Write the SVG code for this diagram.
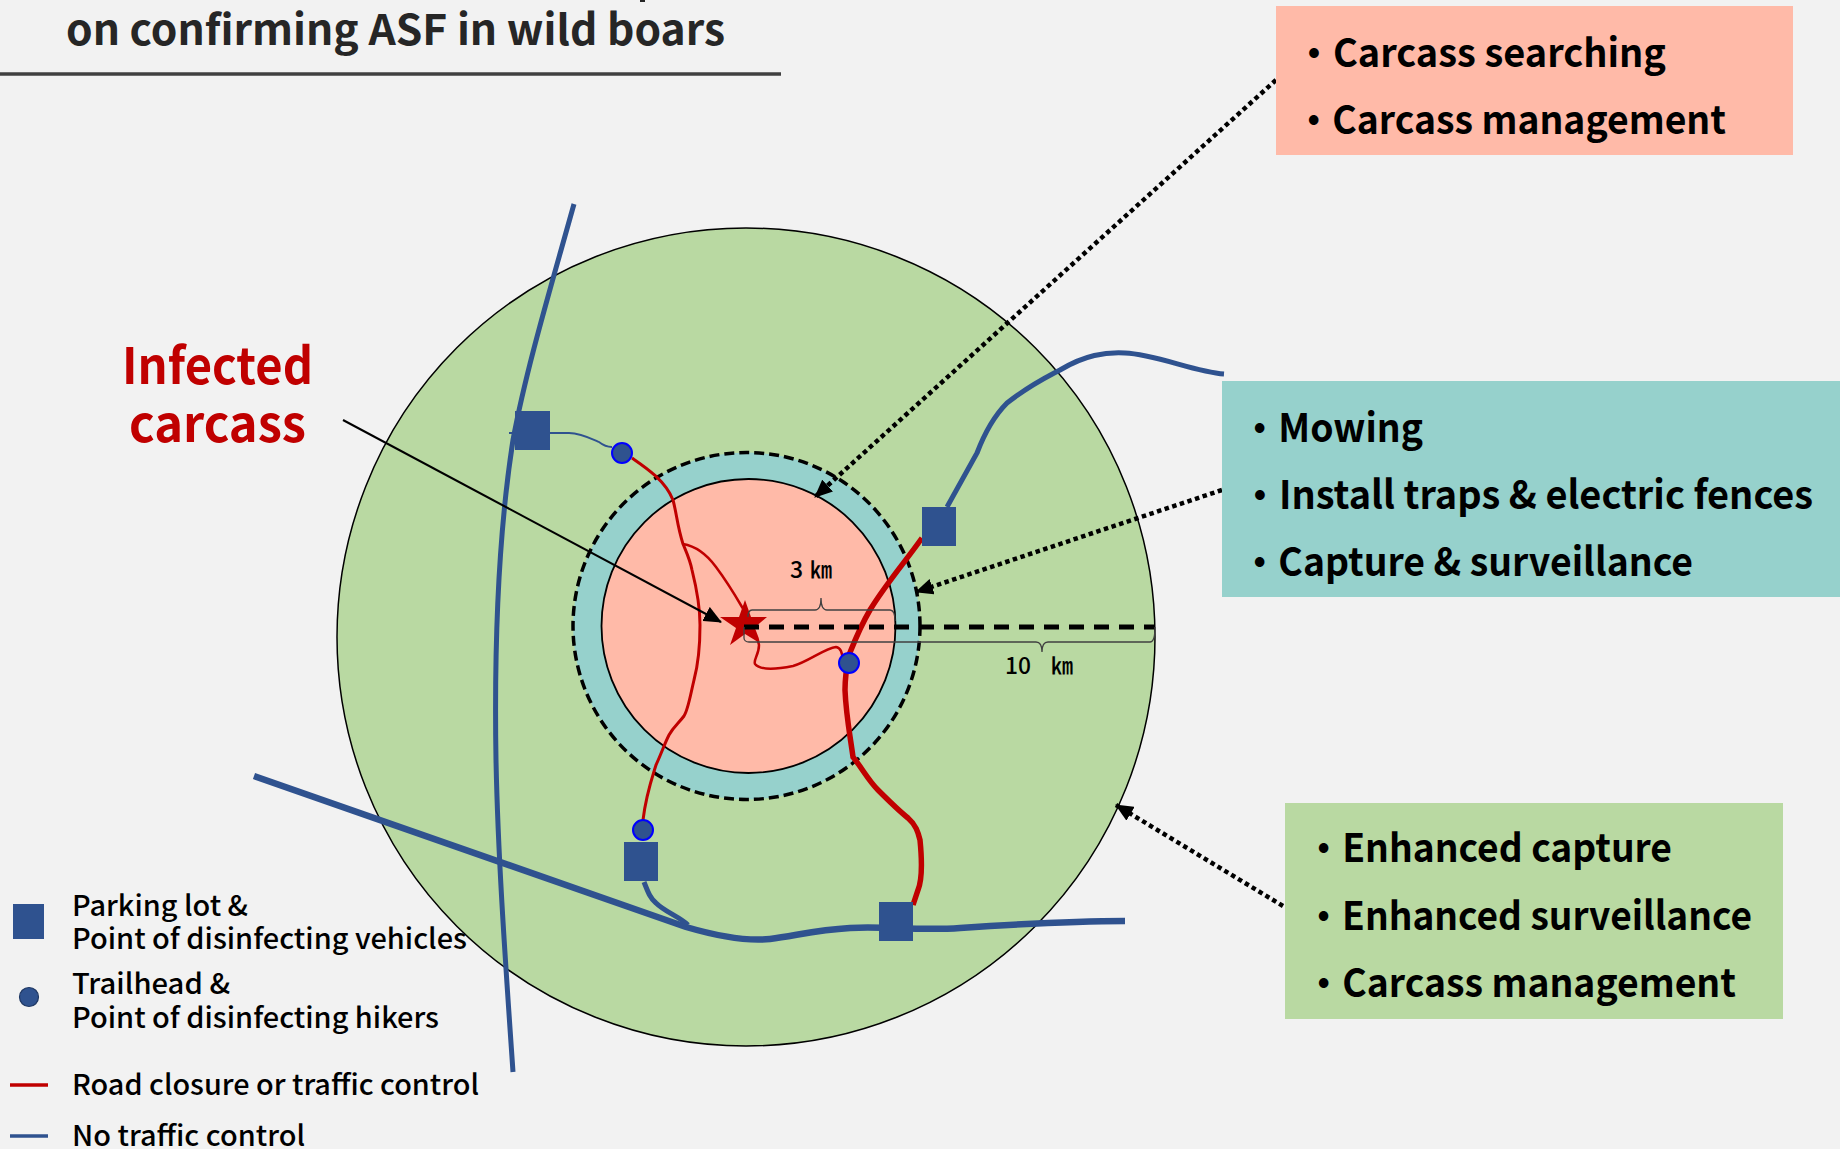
<svg xmlns="http://www.w3.org/2000/svg" width="1840" height="1149" viewBox="0 0 1840 1149">
<style>
text{font-family:"Noto Sans CJK JP","Noto Sans",sans-serif;font-weight:500;fill:#000}
.box{font-size:39px;font-weight:600}
.leg{font-size:28px}
.blue{fill:none;stroke:#2f528f;stroke-linecap:butt}
.red{fill:none;stroke:#c00000}
.sq{fill:#2f528f}
.th{fill:#2f528f;stroke:#0000ff;stroke-width:2}
.dot{fill:none;stroke:#000;stroke-width:4.500;stroke-dasharray:4.500 3.500;marker-end:url(#ah)}
.brace{fill:none;stroke:#404040;stroke-width:1.300}
</style>
<defs><marker id="ah" markerUnits="userSpaceOnUse" markerWidth="18" markerHeight="16" refX="17" refY="8" orient="auto"><path d="M0 0L18 8L0 16z" fill="#000"/></marker></defs>
<rect width="1840" height="1149" fill="#f2f2f2"/>
<g id="title">
<path d="M640 0h5v2h-5z" fill="#262626"/>
<text x="66" y="45" font-size="42" style="fill:#262626;font-weight:600" textLength="659" lengthAdjust="spacingAndGlyphs">on confirming ASF in wild boars</text>
<path d="M0 74H781" stroke="#404040" stroke-width="3.500"/>
</g>
<g id="zones">
<circle id="zone-10km" cx="746" cy="637" r="409" fill="#b9d9a2" stroke="#000" stroke-width="1.500"/>
<circle id="zone-buffer" cx="746.500" cy="626" r="173.500" fill="#96d1cc" stroke="#000" stroke-width="3.500" stroke-dasharray="10 5"/>
<circle id="zone-3km" cx="748.500" cy="626" r="147" fill="#ffbaa8" stroke="#000" stroke-width="1.800"/>
</g>
<g id="star"><polygon fill="#c00000" points="745,600 751,617 767,617 754,628 758,642 745,634 730,645 736,628 720,617 739,617"/></g>
<g id="connectors">
<path class="blue" stroke-width="5" d="M574 204C550 290 526 370 513 440C499 530 494 640 496 760C498 860 506 970 513 1072"/>
<path class="blue" stroke-width="6.500" d="M254 776L686 927C710 934 742 942 770 939C795 936 815 930 850 928C885 926 920 931 960 928C1020 924 1070 921 1125 921"/>
<path class="blue" stroke-width="5" d="M947 507L977 453C985 432 995 415 1007 403C1030 385 1045 378 1060 370C1085 355 1105 352 1125 353C1155 354 1195 372 1224 374"/>
<path class="blue" stroke-width="1.800" d="M509 433H569C580 433 590 438 599 442C604 446 608 447 612 447"/>
<path class="blue" stroke-width="5" d="M644 882C648 892 650 898 656 903C665 912 680 917 688 925"/>
<path class="red" stroke-width="3" d="M632 458C645 467 665 480 673 500C677 515 677 525 683 544C688 556 690 560 692 570C697 590 700 610 700 625C700 650 698 665 694 680C690 697 688 710 684 716C678 724 674 726 669 735C664 745 662 752 656 765C652 778 646 795 643 820"/>
<path class="red" stroke-width="2.500" d="M683 544C695 546 705 552 716 567C728 583 735 595 742 607C750 622 757 632 759 645C759 655 753 660 755 664C760 670 773 670 793 666C808 662 825 648 836 647C842 648 842 655 843 660"/>
<path class="red" stroke-width="5.500" d="M922 538C905 562 885 585 870 610C860 627 855 640 849 655C846 670 845 680 845 690C846 715 850 735 853 757C862 768 868 780 878 790C890 802 898 810 908 818C916 825 918 832 920 840C922 860 922 880 918 890L913 905"/>
<path d="M744 627H1155" fill="none" stroke="#000" stroke-width="5" stroke-dasharray="15 10"/>
<path class="brace" d="M748 617C748 612 749 610 752 610H815C819 610 821 606 821 598C821 606 823 610 827 610H890C893 610 895 612 895 621"/>
<path class="brace" d="M744 627V638C744 640 746 642 749 642H1036C1040 642 1042 645 1042 652C1042 645 1044 642 1048 642H1150C1153 642 1155 638 1155 627"/>
<path d="M343 420L721 622" fill="none" stroke="#000" stroke-width="2" marker-end="url(#ah)"/>
<path class="dot" d="M1276 80L815 497"/>
<path class="dot" d="M1222 490L916 592"/>
<path class="dot" d="M1283 906L1116 805"/>
</g>
<g id="parking-1"><rect class="sq" x="515" y="411" width="35" height="39"/></g>
<g id="parking-2"><rect class="sq" x="922" y="507" width="34" height="39"/></g>
<g id="parking-3"><rect class="sq" x="624" y="842" width="34" height="39"/></g>
<g id="parking-4"><rect class="sq" x="879" y="902" width="34" height="39"/></g>
<g id="trailhead-1"><circle class="th" cx="622" cy="453" r="10"/></g>
<g id="trailhead-2"><circle class="th" cx="849" cy="663" r="10"/></g>
<g id="trailhead-3"><circle class="th" cx="643" cy="830" r="10"/></g>
<g id="label-3km"><text x="790" y="578" font-size="23">3</text><text x="810" y="578" font-size="23" textLength="22" lengthAdjust="spacingAndGlyphs">㎞</text></g>
<g id="label-10km"><text x="1005" y="674" font-size="23" textLength="26" lengthAdjust="spacingAndGlyphs">10</text><text x="1051" y="674" font-size="23" textLength="22" lengthAdjust="spacingAndGlyphs">㎞</text></g>
<g id="infected-carcass">
<text x="122" y="384" font-size="50" style="fill:#c00000;font-weight:600" textLength="191" lengthAdjust="spacingAndGlyphs">Infected</text>
<text x="129" y="442" font-size="50" style="fill:#c00000;font-weight:600" textLength="177" lengthAdjust="spacingAndGlyphs">carcass</text>
</g>
<g id="box-core">
<rect x="1276" y="6" width="517" height="149" fill="#ffbaa8"/>
<text class="box" x="1295" y="67" textLength="371" lengthAdjust="spacingAndGlyphs">・Carcass searching</text>
<text class="box" x="1295" y="134" textLength="431" lengthAdjust="spacingAndGlyphs">・Carcass management</text>
</g>
<g id="box-buffer">
<rect x="1222" y="381" width="618" height="216" fill="#96d1cc"/>
<text class="box" x="1241" y="442" textLength="182" lengthAdjust="spacingAndGlyphs">・Mowing</text>
<text class="box" x="1241" y="509" textLength="572" lengthAdjust="spacingAndGlyphs">・Install traps &amp; electric fences</text>
<text class="box" x="1241" y="576" textLength="452" lengthAdjust="spacingAndGlyphs">・Capture &amp; surveillance</text>
</g>
<g id="box-outer">
<rect x="1285" y="803" width="498" height="216" fill="#b9d9a2"/>
<text class="box" x="1305" y="862" textLength="367" lengthAdjust="spacingAndGlyphs">・Enhanced capture</text>
<text class="box" x="1305" y="930" textLength="447" lengthAdjust="spacingAndGlyphs">・Enhanced surveillance</text>
<text class="box" x="1305" y="997" textLength="431" lengthAdjust="spacingAndGlyphs">・Carcass management</text>
</g>
<g id="legend">
<rect class="sq" x="13" y="904" width="31" height="35"/>
<circle cx="29" cy="997" r="9.500" fill="#2f528f" stroke="#1f3864" stroke-width="1.200"/>
<path d="M10 1085H48" stroke="#c00000" stroke-width="3.500"/>
<path d="M10 1136H48" stroke="#2f528f" stroke-width="3.500"/>
<text class="leg" x="72" y="916" textLength="176" lengthAdjust="spacingAndGlyphs">Parking lot &amp;</text>
<text class="leg" x="72" y="949" textLength="395" lengthAdjust="spacingAndGlyphs">Point of disinfecting vehicles</text>
<text class="leg" x="72" y="994" textLength="158" lengthAdjust="spacingAndGlyphs">Trailhead &amp;</text>
<text class="leg" x="72" y="1028" textLength="367" lengthAdjust="spacingAndGlyphs">Point of disinfecting hikers</text>
<text class="leg" x="72" y="1095" textLength="407" lengthAdjust="spacingAndGlyphs">Road closure or traffic control</text>
<text class="leg" x="72" y="1146" textLength="233" lengthAdjust="spacingAndGlyphs">No traffic control</text>
</g>
</svg>
